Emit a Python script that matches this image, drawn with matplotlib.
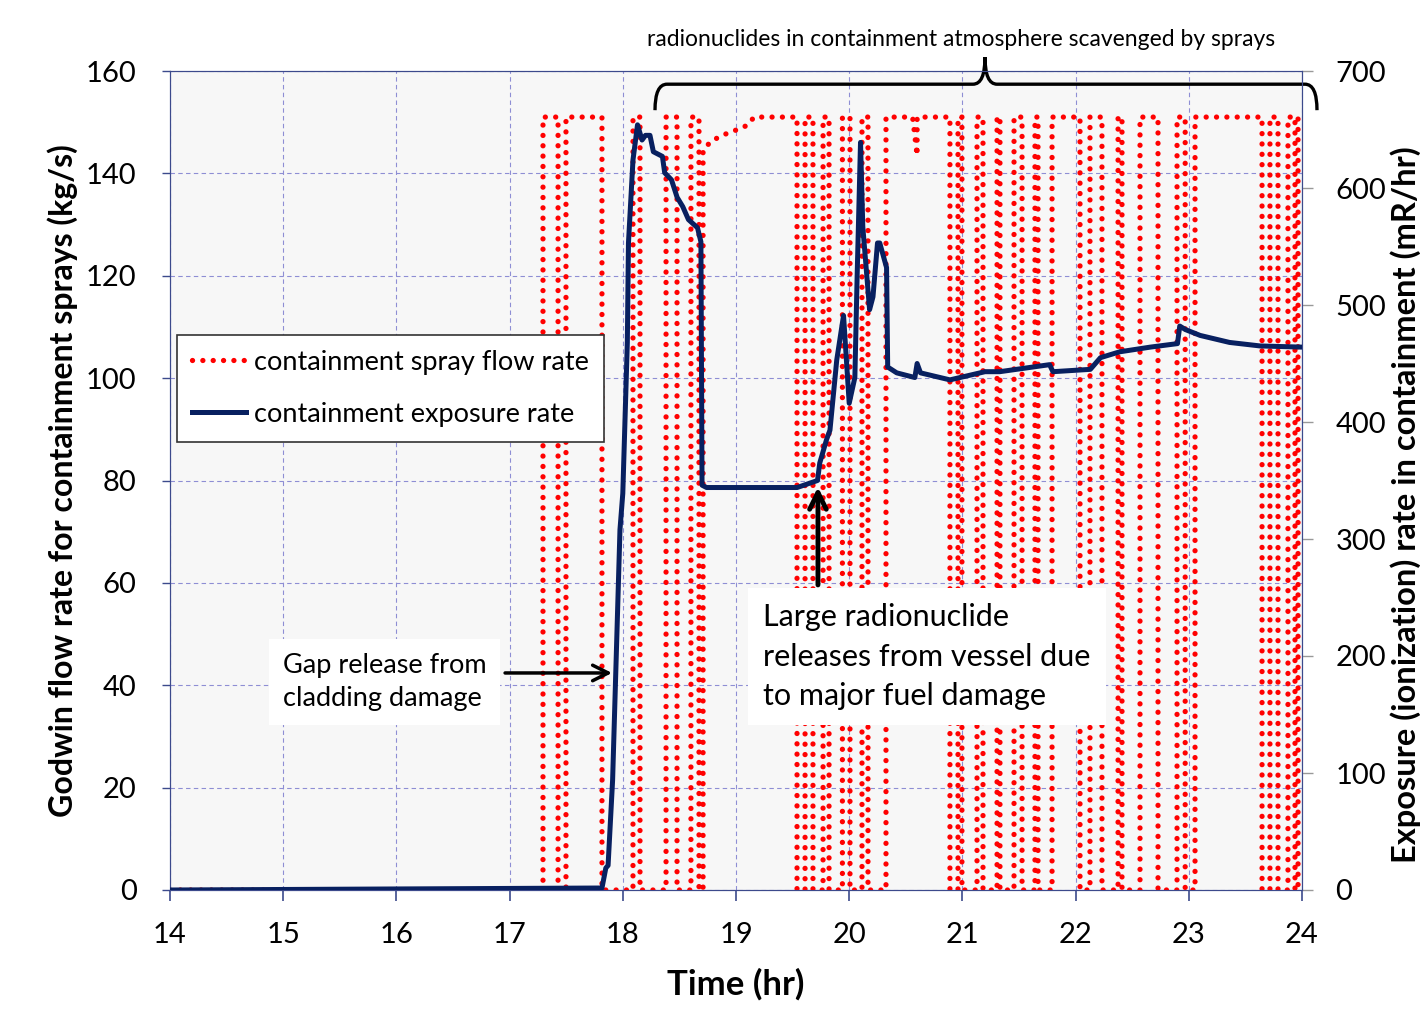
import numpy as np
import matplotlib
matplotlib.use('Agg')
import matplotlib.pyplot as plt
from matplotlib.path import Path
from matplotlib.patches import PathPatch
from matplotlib.lines import Line2D

plt.rcParams['font.family'] = ['Lato', 'DejaVu Sans']

# containment spray flow rate (kg/s), step vertices
spray_t = [14.0, 17.295, 17.295, 17.428, 17.428, 17.498, 17.498, 17.816, 17.816,
           18.090, 18.090, 18.152, 18.152, 18.382, 18.382, 18.479, 18.479,
           18.602, 18.602, 18.673, 18.673, 18.709, 18.709, 18.78, 18.87, 18.94,
           19.02, 19.10, 19.16, 19.539, 19.539, 19.610, 19.610, 19.680, 19.680,
           19.769, 19.769, 19.822, 19.822, 19.940, 19.940, 20.007, 20.007,
           20.113, 20.113, 20.166, 20.166, 20.325, 20.325, 20.56, 20.60, 20.60,
           20.890, 20.890, 20.961, 20.961, 20.996, 20.996, 21.129, 21.129,
           21.182, 21.182, 21.306, 21.306, 21.332, 21.332, 21.456, 21.456,
           21.527, 21.527, 21.641, 21.641, 21.668, 21.668, 21.792, 21.792,
           22.039, 22.039, 22.127, 22.127, 22.233, 22.233, 22.375, 22.375,
           22.410, 22.410, 22.569, 22.569, 22.728, 22.728, 22.896, 22.896,
           22.968, 22.968, 23.055, 23.055, 23.647, 23.647, 23.717, 23.717,
           23.788, 23.788, 23.876, 23.876, 23.938, 23.938, 23.965, 23.965, 24.0]
spray_q = [0, 0, 151, 151, 0, 0, 151, 151, 0,
           0, 151, 151, 0, 0, 151, 151, 0,
           0, 151, 151, 0, 0, 144.5, 146.3, 147.3, 148.0,
           148.6, 149.4, 151, 151, 0, 0, 151, 151, 0,
           0, 151, 151, 0, 0, 151, 151, 0,
           0, 151, 151, 0, 0, 151, 151, 143.5, 151,
           151, 0, 0, 151, 151, 0, 0, 151,
           151, 0, 0, 151, 151, 0, 0, 151,
           151, 0, 0, 151, 151, 0, 0, 151,
           151, 0, 0, 151, 151, 0, 0, 151,
           151, 0, 0, 151, 151, 0, 0, 151,
           151, 0, 0, 151, 151, 0, 0, 151,
           151, 0, 0, 151, 151, 0, 0, 151, 151]

# containment exposure rate (mR/hr)
expo_t = [14.0, 17.816, 17.85, 17.87, 17.91, 17.975, 18.00, 18.04, 18.05, 18.09,
          18.13, 18.17, 18.20, 18.24, 18.27, 18.35, 18.37, 18.43, 18.48, 18.53,
          18.58, 18.66, 18.69, 18.70, 18.74, 19.04, 19.54, 19.72, 19.74, 19.80,
          19.83, 19.89, 19.95, 20.00, 20.05, 20.07, 20.10, 20.12, 20.18, 20.21,
          20.25, 20.27, 20.33, 20.34, 20.42, 20.58, 20.60, 20.63, 20.89, 21.20,
          21.33, 21.77, 21.80, 22.13, 22.22, 22.39, 22.66, 22.90, 22.92, 22.97,
          23.10, 23.36, 23.63, 24.0]
expo_r = [0, 1.7, 18.8, 21, 94, 308, 339, 468, 553, 624,
          654, 641, 645, 645, 631, 627, 613, 607, 592, 584,
          573, 566, 554, 346, 344, 344, 344, 350, 365, 385,
          393, 453, 491, 416, 438, 524, 639, 567, 496, 507,
          553, 553, 532, 447, 442, 438, 450, 442, 436, 443,
          443, 449, 443, 445, 455, 460, 464, 467, 482, 479,
          474, 468, 465, 464]

x_ticks = np.arange(14, 25, 1)
left_ticks = np.arange(0, 161, 20)
right_ticks = np.arange(0, 701, 100)

spine_col = '#3c4a8c'
grid_col = '#8e8ed4'

fig = plt.figure(figsize=(14.2, 10.26), dpi=100)
ax = fig.add_axes([170 / 1420, 136 / 1026, 1132 / 1420, 819 / 1026])
ax.set_facecolor('#f7f7f7')
ax2 = ax.twinx()

ax.plot(spray_t, spray_q, color='#ff0000', lw=3.8, linestyle=(0, (0.01, 1.95)),
        dash_capstyle='round', zorder=3)
ax2.plot(expo_t, expo_r, color='#082060', lw=3.6, solid_joinstyle='round', zorder=4)

ax.set_xlim(14, 24)
ax.set_ylim(0, 160)
ax2.set_ylim(0, 700)
ax.set_xticks(x_ticks)
ax.set_yticks(left_ticks)
ax2.set_yticks(right_ticks)

ax.grid(True, color=grid_col, linestyle=(0, (4, 3)), lw=0.8)
ax.set_axisbelow(True)
for s in ['left', 'bottom', 'top', 'right']:
    ax.spines[s].set_color(spine_col)
    ax2.spines[s].set_color(spine_col)
ax.tick_params(axis='x', direction='out', length=8, width=1.2, color=spine_col,
               labelsize=21, pad=15)
ax.tick_params(axis='y', direction='out', length=6, width=1, color=spine_col,
               labelsize=21, pad=18)
ax2.tick_params(axis='y', direction='out', length=8, width=1, color='#999999',
                labelsize=21, pad=16)

ax.set_xlabel('Time (hr)', fontsize=25, fontweight='bold')
ax.xaxis.set_label_coords(0.5, -0.095)
ax.set_ylabel('Godwin flow rate for containment sprays (kg/s)', fontsize=23,
              fontweight='bold')
ax.yaxis.set_label_coords(-0.081, 0.5)
ax2.set_ylabel('Exposure (ionization) rate in containment (mR/hr)', fontsize=23.5,
               fontweight='bold')
ax2.yaxis.set_label_coords(1.078, 0.47)

handles = [Line2D([], [], color='#ff0000', lw=3.8, linestyle=(0, (0.01, 1.95)),
                  dash_capstyle='round'),
           Line2D([], [], color='#082060', lw=3.6)]
leg = ax.legend(handles, ['containment spray flow rate', 'containment exposure rate'],
                loc='upper left', bbox_to_anchor=(0.006, 0.678), fontsize=19.5,
                frameon=True, fancybox=False, edgecolor='#333333',
                framealpha=1, handlelength=2.0, handletextpad=0.3,
                borderpad=0.55, labelspacing=1.0, borderaxespad=0)
leg.get_frame().set_linewidth(1.2)
leg.set_zorder(10)

# annotations
ax.text(14.998, 40.6, 'Gap release from\ncladding damage', fontsize=19.5,
        ha='left', va='center', linespacing=1.4, zorder=6,
        bbox=dict(facecolor='white', edgecolor='none', pad=10))
ax.annotate('', xy=(17.905, 42.4), xytext=(16.96, 42.4), zorder=7,
            arrowprops=dict(arrowstyle='->', lw=2.5, color='black',
                            mutation_scale=28, shrinkA=0, shrinkB=0))
ax.text(19.239, 45.6, 'Large radionuclide\nreleases from vessel due\nto major fuel damage',
        fontsize=22, ha='left', va='center', linespacing=1.5, zorder=6,
        bbox=dict(facecolor='white', edgecolor='none', pad=11))
ax.annotate('', xy=(19.724, 78.7), xytext=(19.724, 59.6), zorder=7,
            arrowprops=dict(arrowstyle='->', lw=3.5, color='black',
                            mutation_scale=30, shrinkA=0, shrinkB=0))


# curly brace above the plot
def px(x, y):
    return (14 + (x - 170) / 113.2, (890 - y) / 5.12)


brace_px = [(655, 110), (655, 84), (667, 84), (973, 84), (985, 84), (985, 57),
            (985, 84), (997, 84), (1305, 84), (1317, 84), (1317, 110)]
codes = [Path.MOVETO, Path.CURVE3, Path.CURVE3, Path.LINETO, Path.CURVE3,
         Path.CURVE3, Path.CURVE3, Path.CURVE3, Path.LINETO, Path.CURVE3, Path.CURVE3]
brace = Path([px(*p) for p in brace_px], codes)
ax.add_patch(PathPatch(brace, facecolor='none', edgecolor='black', lw=2.4,
                       clip_on=False, zorder=8))
fig.text(961 / 1420, 1 - 40 / 1026,
         'radionuclides in containment atmosphere scavenged by sprays',
         fontsize=16.5, ha='center', va='center')

fig.savefig('out.png', dpi=100)
